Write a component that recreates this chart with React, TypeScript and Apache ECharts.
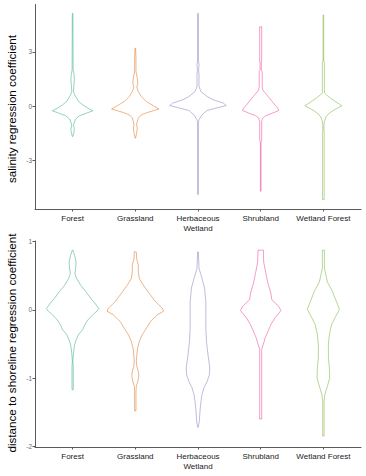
import React, { useEffect, useRef } from "react";
import * as echarts from "echarts";

// Habitat classes along the x axis (positions 1..5)
const categories = ["Forest", "Grassland", "Herbaceous\nWetland", "Shrubland", "Wetland Forest"];
const palette = ["#1B9E77", "#D95F02", "#7570B3", "#E7298A", "#66A61E"];

// Violin outlines: [coefficient value, half-width in x-axis units], top to bottom
const salinityForest = [[5.12,0.005],[2.0,0.008],[1.73,0.024],[1.46,0.027],[1.09,0.019],[0.81,0.013],[0.63,0.032],[0.45,0.064],[0.26,0.096],[0.08,0.161],[-0.1,0.241],[-0.25,0.322],[-0.37,0.225],[-0.52,0.113],[-0.7,0.048],[-0.92,0.024],[-1.07,0.013],[-1.2,0.027],[-1.38,0.024],[-1.66,0.005]];
const salinityGrassland = [[3.2,0.005],[2.6,0.011],[1.9,0.011],[1.55,0.032],[1.27,0.040],[1.05,0.024],[0.81,0.048],[0.54,0.096],[0.26,0.177],[0.03,0.289],[-0.15,0.378],[-0.34,0.193],[-0.47,0.096],[-0.65,0.048],[-0.83,0.032],[-1.02,0.021],[-1.2,0.032],[-1.47,0.021],[-1.75,0.005]];
const salinityHerbaceous = [[5.12,0.005],[2.55,0.005],[2.3,0.016],[2.0,0.010],[1.7,0.016],[1.09,0.016],[0.81,0.048],[0.54,0.145],[0.36,0.241],[0.18,0.402],[0.04,0.450],[-0.1,0.289],[-0.23,0.145],[-0.47,0.064],[-0.74,0.016],[-0.9,0.005],[-4.86,0.005]];
const salinityShrubland = [[4.38,0.016],[2.55,0.016],[2.4,0.010],[2.0,0.010],[1.91,0.024],[1.09,0.024],[0.9,0.032],[0.63,0.096],[0.36,0.161],[0.08,0.225],[-0.1,0.273],[-0.23,0.289],[-0.37,0.193],[-0.52,0.080],[-0.65,0.032],[-0.84,0.016],[-1.84,0.016],[-2.0,0.005],[-4.68,0.005]];
const salinityWetlandForest = [[5.03,0.005],[2.5,0.005],[2.4,0.016],[0.74,0.016],[0.63,0.048],[0.45,0.113],[0.26,0.193],[0.03,0.296],[-0.19,0.177],[-0.37,0.096],[-0.59,0.040],[-0.84,0.016],[-1.1,0.008],[-1.5,0.013],[-5.14,0.013]];

const shorelineForest = [[0.875,0.005],[0.80,0.032],[0.70,0.056],[0.61,0.048],[0.53,0.037],[0.46,0.064],[0.36,0.129],[0.27,0.209],[0.17,0.289],[0.10,0.354],[0.02,0.418],[-0.02,0.386],[-0.07,0.322],[-0.15,0.241],[-0.22,0.193],[-0.29,0.161],[-0.36,0.096],[-0.44,0.056],[-0.51,0.032],[-0.58,0.021],[-0.66,0.011],[-0.75,0.004],[-0.83,0.010],[-1.17,0.010]];
const shorelineGrassland = [[0.85,0.016],[0.75,0.021],[0.66,0.048],[0.56,0.048],[0.46,0.064],[0.36,0.129],[0.24,0.225],[0.12,0.322],[0.02,0.434],[-0.02,0.450],[-0.07,0.354],[-0.17,0.241],[-0.27,0.177],[-0.36,0.113],[-0.46,0.064],[-0.56,0.037],[-0.66,0.024],[-0.75,0.016],[-0.83,0.024],[-0.90,0.048],[-0.97,0.056],[-1.05,0.040],[-1.12,0.016],[-1.19,0.011],[-1.48,0.011]];
const shorelineHerbaceous = [[0.85,0.005],[0.61,0.016],[0.46,0.064],[0.32,0.105],[0.12,0.125],[-0.07,0.125],[-0.27,0.125],[-0.46,0.135],[-0.66,0.160],[-0.85,0.188],[-0.95,0.182],[-1.05,0.145],[-1.14,0.096],[-1.24,0.064],[-1.34,0.048],[-1.48,0.032],[-1.63,0.021],[-1.72,0.005]];
const shorelineShrubland = [[0.875,0.043],[0.70,0.048],[0.55,0.080],[0.40,0.113],[0.25,0.161],[0.15,0.177],[0.05,0.289],[-0.01,0.322],[-0.12,0.225],[-0.22,0.161],[-0.32,0.113],[-0.41,0.072],[-0.51,0.040],[-0.58,0.016],[-1.6,0.016]];
const shorelineWetlandForest = [[0.875,0.016],[0.61,0.016],[0.41,0.064],[0.27,0.145],[0.12,0.209],[0.01,0.257],[-0.1,0.193],[-0.22,0.129],[-0.36,0.096],[-0.51,0.080],[-0.70,0.080],[-0.85,0.096],[-1.0,0.101],[-1.12,0.064],[-1.24,0.024],[-1.34,0.011],[-1.85,0.011]];

const salinityViolins = [salinityForest, salinityGrassland, salinityHerbaceous, salinityShrubland, salinityWetlandForest];
const shorelineViolins = [shorelineForest, shorelineGrassland, shorelineHerbaceous, shorelineShrubland, shorelineWetlandForest];

const salinityTicks = [-3, 0, 3];
const shorelineTicks = [-2, -1, 0, 1];
const categoryTicks = [1, 2, 3, 4, 5];

const FONT = "'Liberation Sans', Arial, sans-serif";
const AXIS_COLOR = "#5a5a5a";

function violinRenderer(profiles: number[][][]) {
  return (params: any, api: any) => {
    const pos = api.value(0);
    const prof = profiles[pos - 1];
    const pts: number[][] = [];
    for (const [v, hw] of prof) pts.push(api.coord([pos - hw, v]));
    for (let i = prof.length - 1; i >= 0; i--) pts.push(api.coord([pos + prof[i][1], prof[i][0]]));
    return {
      type: "polygon",
      shape: { points: pts },
      style: { fill: "none", stroke: palette[pos - 1], lineWidth: 0.55, strokeOpacity: 0.85 },
    };
  };
}

function xAxisFor(gridIndex: number) {
  return {
    type: "value",
    gridIndex,
    min: 0.4,
    max: 5.6,
    splitLine: { show: false },
    axisLine: { show: true, onZero: false, lineStyle: { color: AXIS_COLOR, width: 1 } },
    axisTick: { show: true, customValues: categoryTicks, length: 2.5, lineStyle: { color: AXIS_COLOR } },
    axisLabel: {
      customValues: categoryTicks,
      formatter: (v: number) => categories[Math.round(v) - 1] ?? "",
      fontSize: 8,
      lineHeight: 9.5,
      color: "#1a1a1a",
      fontFamily: FONT,
      margin: 5,
    },
  };
}

function yAxisFor(gridIndex: number, min: number, max: number, ticks: number[]) {
  return {
    type: "value",
    gridIndex,
    min,
    max,
    splitLine: { show: false },
    axisLine: { show: true, onZero: false, lineStyle: { color: AXIS_COLOR, width: 1 } },
    axisTick: { show: true, customValues: ticks, length: 2.5, lineStyle: { color: AXIS_COLOR } },
    axisLabel: {
      customValues: ticks,
      fontSize: 6.5,
      color: "#6b6b6b",
      fontFamily: FONT,
      margin: 3,
    },
  };
}

export default function App() {
  const ref = useRef<HTMLDivElement>(null);
  useEffect(() => {
    if (!ref.current) return;
    const chart = echarts.init(ref.current, null, { renderer: "svg" });
    chart.setOption({
      animation: false,
      backgroundColor: "#ffffff",
      grid: [
        { left: 35, top: 4.5, width: 326, height: 204.5 },
        { left: 35, top: 241, width: 326, height: 206 },
      ],
      xAxis: [xAxisFor(0), xAxisFor(1)],
      yAxis: [
        yAxisFor(0, -5.66, 5.61, salinityTicks),
        yAxisFor(1, -2.01, 1.01, shorelineTicks),
      ],
      series: [
        {
          type: "custom",
          xAxisIndex: 0,
          yAxisIndex: 0,
          renderItem: violinRenderer(salinityViolins),
          data: categoryTicks.map((c) => [c, 0]),
          clip: false,
        },
        {
          type: "custom",
          xAxisIndex: 1,
          yAxisIndex: 1,
          renderItem: violinRenderer(shorelineViolins),
          data: categoryTicks.map((c) => [c, 0]),
          clip: false,
        },
      ],
      graphic: [
        {
          type: "text",
          x: 11,
          y: 109,
          rotation: Math.PI / 2,
          style: {
            text: "salinity regression coefficient",
            fontSize: 11.6,
            fontFamily: FONT,
            fill: "#000",
            textAlign: "center",
            textVerticalAlign: "middle",
          },
        },
        {
          type: "text",
          x: 11,
          y: 343,
          rotation: Math.PI / 2,
          style: {
            text: "distance to shoreline regression coefficient",
            fontSize: 11.6,
            fontFamily: FONT,
            fill: "#000",
            textAlign: "center",
            textVerticalAlign: "middle",
          },
        },
      ],
    });
    return () => chart.dispose();
  }, []);
  return (
    <div
      ref={ref}
      style={{ position: "fixed", left: 0, top: 0, width: 366, height: 476, background: "#fff" }}
    />
  );
}
